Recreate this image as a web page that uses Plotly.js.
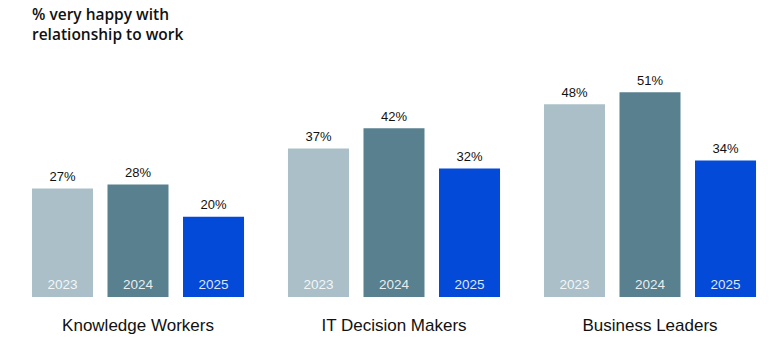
<!DOCTYPE html>
<html>
<head>
<meta charset="utf-8">
<script src="https://cdn.plot.ly/plotly-3.0.1.min.js"></script>
<style>html,body{margin:0;padding:0;background:#fff;}#chart{width:783px;height:363px;}</style>
</head>
<body>
<div id="chart"></div>
<script>
const categories = ["Knowledge Workers", "IT Decision Makers", "Business Leaders"];
const years = ["2023", "2024", "2025"];
const values2023 = [27, 37, 48];
const values2024 = [28, 42, 51];
const values2025 = [20, 32, 34];
const seriesValues = [values2023, values2024, values2025];
const colors = ["#AABFC8", "#58808F", "#034ad8"];

const traces = [];
years.forEach((yr, i) => {
  traces.push({
    type: "bar",
    name: yr,
    x: categories,
    y: seriesValues[i],
    offsetgroup: yr,
    alignmentgroup: "g",
    marker: {color: colors[i]},
    hoverinfo: "skip",
    showlegend: false
  });
});
// value labels above bars
years.forEach((yr, i) => {
  traces.push({
    type: "scatter",
    mode: "markers+text",
    x: categories,
    y: seriesValues[i],
    offsetgroup: yr,
    alignmentgroup: "g",
    text: seriesValues[i].map(v => v + "%"),
    textposition: "top center",
    textfont: {family: "Liberation Sans, Arial, sans-serif", size: 13, color: "#111"},
    marker: {size: 5, color: "rgba(0,0,0,0)"},
    hoverinfo: "skip",
    showlegend: false,
    cliponaxis: false
  });
});
// year labels inside bars at base
years.forEach((yr, i) => {
  traces.push({
    type: "scatter",
    mode: "markers+text",
    x: categories,
    y: categories.map(() => 0),
    offsetgroup: yr,
    alignmentgroup: "g",
    text: categories.map(() => yr),
    textposition: "top center",
    textfont: {family: "Liberation Sans, Arial, sans-serif", size: 13.5, color: "rgba(255,255,255,0.88)"},
    marker: {size: 6, color: "rgba(0,0,0,0)"},
    hoverinfo: "skip",
    showlegend: false,
    cliponaxis: false
  });
});

const layout = {
  width: 783,
  height: 363,
  margin: {l: 10, r: 5, t: 56, b: 66},
  paper_bgcolor: "#fff",
  plot_bgcolor: "#fff",
  barmode: "group",
  bargap: 0.115,
  bargroupgap: 0.192,
  scattermode: "group",
  scattergap: 0.115,
  title: {
    text: "% very happy with<br>relationship to work",
    x: 32 / 783,
    xanchor: "left",
    xref: "container",
    y: 1 - 20 / 363,
    yanchor: "top",
    yref: "container",
    font: {family: "Open Sans, sans-serif", size: 15.5, color: "#111", weight: 600}
  },
  xaxis: {
    type: "category",
    range: [-0.5, 2.5],
    showgrid: false,
    zeroline: false,
    showline: false,
    ticks: "",
    ticklen: 0,
    ticklabelstandoff: 16,
    tickfont: {family: "Liberation Sans, Arial, sans-serif", size: 17, color: "#111"}
  },
  yaxis: {
    range: [0, 60],
    visible: false,
    showgrid: false,
    zeroline: false,
    fixedrange: true
  },
  showlegend: false
};

Plotly.newPlot("chart", traces, layout, {displayModeBar: false, staticPlot: true});
</script>
</body>
</html>
